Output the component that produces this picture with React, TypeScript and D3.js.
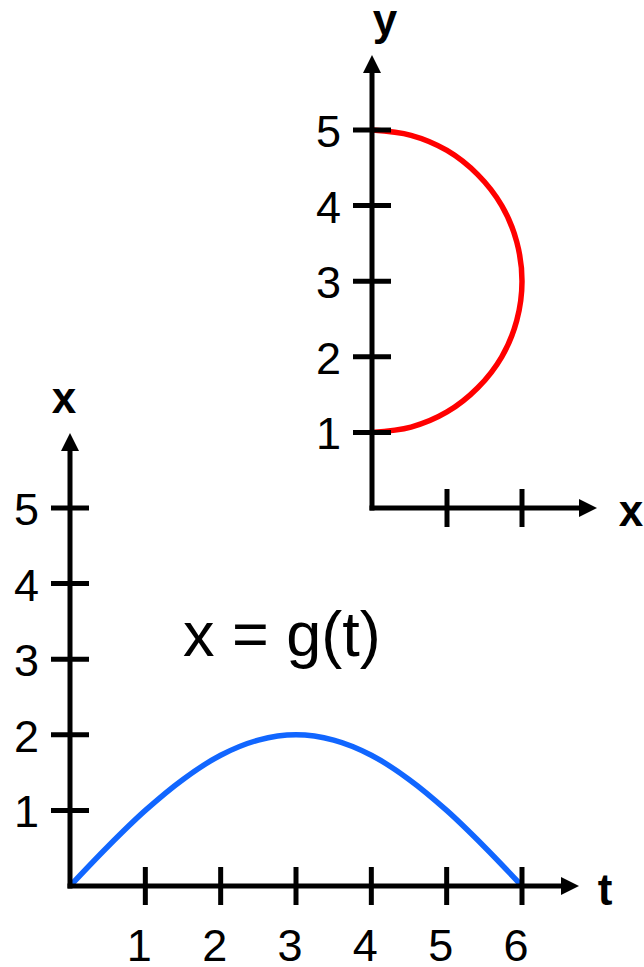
import React, { useEffect } from "react";
import * as d3 from "d3";

// Top chart: semicircle traced in the (x, y) plane
const arcX = [0, 0.52, 1.0, 1.41, 1.73, 1.93, 2.0, 1.93, 1.73, 1.41, 1.0, 0.52, 0];
const arcY = [1, 1.07, 1.27, 1.59, 2.0, 2.48, 3.0, 3.52, 4.0, 4.41, 4.73, 4.93, 5];
const topYTicks = [1, 2, 3, 4, 5];
const topXTicks = [1, 2];

// Bottom chart: x = g(t)
const tValues = [0, 0.5, 1, 1.5, 2, 2.5, 3, 3.5, 4, 4.5, 5, 5.5, 6];
const gValues = [0, 0.52, 1.0, 1.41, 1.73, 1.93, 2.0, 1.93, 1.73, 1.41, 1.0, 0.52, 0];
const botYTicks = [1, 2, 3, 4, 5];
const botXTicks = [1, 2, 3, 4, 5, 6];

const FONT = "'Liberation Sans', Arial, Helvetica, sans-serif";
const SW = 5;
const CW = 5.5;
const TICK = 19;

function Arrow({ x, y, dir }: { x: number; y: number; dir: "up" | "right" }) {
  const L = 18, H = 9;
  const pts =
    dir === "up"
      ? `${x},${y} ${x - H},${y + L} ${x + H},${y + L}`
      : `${x},${y} ${x - L},${y - H} ${x - L},${y + H}`;
  return <polygon points={pts} fill="#000" />;
}

export default function App() {
  useEffect(() => {
    document.body.style.margin = "0";
  }, []);

  // Top chart scales
  const txs = d3.scaleLinear().domain([0, 2]).range([372, 522]);
  const tys = d3.scaleLinear().domain([0, 5]).range([508, 130]);
  // Bottom chart scales
  const bxs = d3.scaleLinear().domain([0, 6]).range([70, 522]);
  const bys = d3.scaleLinear().domain([0, 5]).range([886, 508]);

  const arcLine = d3
    .line<number>()
    .x((_, i) => txs(arcX[i]))
    .y((_, i) => tys(arcY[i]))
    .curve(d3.curveCatmullRom.alpha(0.5));
  const gLine = d3
    .line<number>()
    .x((_, i) => bxs(tValues[i]))
    .y((_, i) => bys(gValues[i]))
    .curve(d3.curveCatmullRom.alpha(0.5));

  const tx0 = txs(0), ty0 = tys(0);
  const bx0 = bxs(0), by0 = bys(0);

  return (
    <svg width={644} height={967} style={{ display: "block", position: "absolute", left: 0, top: 0 }} fontFamily={FONT}>
      <rect width={644} height={967} fill="#fff" />

      {/* Top chart */}
      <path d={arcLine(arcX) || ""} fill="none" stroke="#ff0000" strokeWidth={CW} />
      <line x1={tx0} y1={ty0 + SW / 2} x2={tx0} y2={72} stroke="#000" strokeWidth={SW} />
      <Arrow x={tx0} y={55} dir="up" />
      <line x1={tx0 - SW / 2} y1={ty0} x2={580} y2={ty0} stroke="#000" strokeWidth={SW} />
      <Arrow x={597} y={ty0} dir="right" />
      {topYTicks.map((v) => (
        <g key={"ty" + v}>
          <line x1={tx0 - TICK} x2={tx0 + TICK} y1={tys(v)} y2={tys(v)} stroke="#000" strokeWidth={SW} />
          <text x={tx0 - 31} y={tys(v) + 17} fontSize={45} textAnchor="end" fill="#000">{v}</text>
        </g>
      ))}
      {topXTicks.map((v) => (
        <line key={"tx" + v} x1={txs(v)} x2={txs(v)} y1={ty0 - TICK} y2={ty0 + TICK} stroke="#000" strokeWidth={SW} />
      ))}
      <text x={385} y={35} fontSize={44} fontWeight="bold" textAnchor="middle" fill="#000">y</text>
      <text x={631} y={526} fontSize={44} fontWeight="bold" textAnchor="middle" fill="#000">x</text>

      {/* Bottom chart */}
      <path d={gLine(tValues) || ""} fill="none" stroke="#1166ff" strokeWidth={CW} />
      <line x1={bx0} y1={by0 + SW / 2} x2={bx0} y2={451} stroke="#000" strokeWidth={SW} />
      <Arrow x={bx0} y={433} dir="up" />
      <line x1={bx0 - SW / 2} y1={by0} x2={562} y2={by0} stroke="#000" strokeWidth={SW} />
      <Arrow x={579} y={by0} dir="right" />
      {botYTicks.map((v) => (
        <g key={"by" + v}>
          <line x1={bx0 - TICK} x2={bx0 + TICK} y1={bys(v)} y2={bys(v)} stroke="#000" strokeWidth={SW} />
          <text x={bx0 - 31} y={bys(v) + 17} fontSize={45} textAnchor="end" fill="#000">{v}</text>
        </g>
      ))}
      {botXTicks.map((v) => (
        <g key={"bx" + v}>
          <line x1={bxs(v)} x2={bxs(v)} y1={by0 - TICK} y2={by0 + TICK} stroke="#000" strokeWidth={SW} />
          <text x={bxs(v) - 6} y={961} fontSize={45} textAnchor="middle" fill="#000">{v}</text>
        </g>
      ))}
      <text x={64} y={413} fontSize={44} fontWeight="bold" textAnchor="middle" fill="#000">x</text>
      <text x={605} y={905} fontSize={44} fontWeight="bold" textAnchor="middle" fill="#000">t</text>

      <text x={183} y={656} fontSize={63} fill="#000">x = g(t)</text>
    </svg>
  );
}
